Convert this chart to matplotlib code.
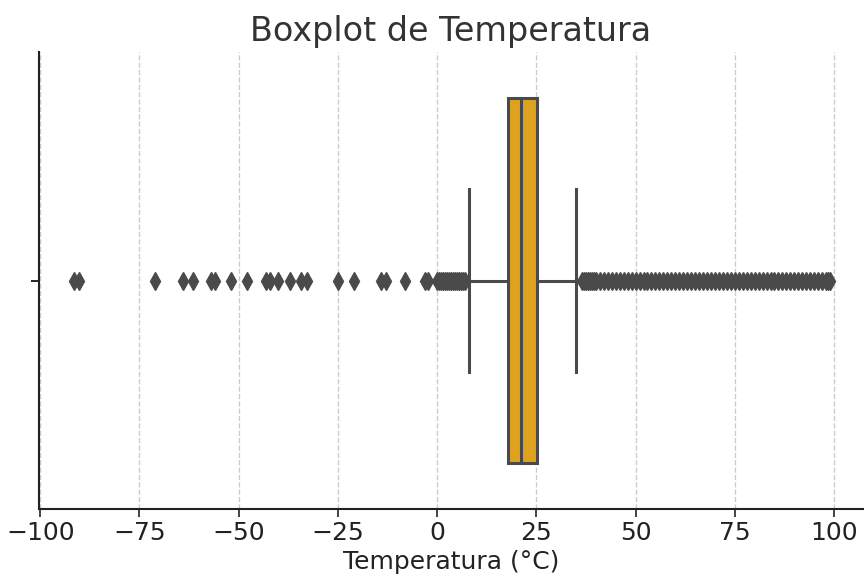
import matplotlib
matplotlib.use("Agg")
import matplotlib.pyplot as plt

# Box statistics
q1 = 17.8
median = 21.1
q3 = 25.1
whisker_low = 8.0
whisker_high = 34.9

# Outliers below the lower whisker
low_outliers = [-91.5, -90.2, -71.0, -64.0, -61.6, -57.0, -56.0, -52.0, -48.0,
                -43.2, -42.2, -40.0, -37.0, -34.2, -32.8, -25.0, -21.0,
                -14.2, -13.0, -8.0, -3.0, -2.2,
                0.0, 0.5, 1.0, 1.5, 2.0, 2.5, 3.0, 3.5, 4.0, 4.5, 5.0, 5.5, 6.0, 6.5, 7.0]

# Outliers above the upper whisker
high_outliers = [36.5, 37.0, 37.5, 38.0, 38.5, 39.0, 39.5, 40.0, 41.0, 42.0, 43.0,
                 44.0, 45.0, 46.0, 47.0, 48.0, 49.0, 50.0, 51.0, 52.0, 53.0, 54.0,
                 55.0, 56.0, 57.0, 58.0, 59.0, 60.0, 61.0, 62.0, 63.0, 64.0, 65.0,
                 66.0, 67.0, 68.0, 69.0, 70.0, 71.0, 72.0, 73.0, 74.0, 75.0, 76.0,
                 77.0, 78.0, 79.0, 80.0, 81.0, 82.0, 83.0, 84.0, 85.0, 86.0, 87.0,
                 88.0, 89.0, 90.0, 91.0, 92.0, 93.0, 94.0, 95.0, 96.0, 97.0, 98.0,
                 98.5, 99.0]

x_ticks = [-100, -75, -50, -25, 0, 25, 50, 75, 100]

title = "Boxplot de Temperatura"
xlabel = "Temperatura (°C)"

edge = "#4a4a4a"
fill = "#DEA21F"

fig = plt.figure(figsize=(8.64, 5.75), dpi=100)
ax = fig.add_axes([39 / 864, 1 - 509 / 575, (863 - 39) / 864, (509 - 52) / 575])

stats = [{
    "q1": q1, "med": median, "q3": q3,
    "whislo": whisker_low, "whishi": whisker_high,
    "fliers": low_outliers + high_outliers,
}]

ax.bxp(stats, positions=[0], widths=0.8, vert=False, patch_artist=True,
       boxprops=dict(facecolor=fill, edgecolor=edge, linewidth=2.2),
       medianprops=dict(color=edge, linewidth=2.2),
       whiskerprops=dict(color=edge, linewidth=2.2),
       capprops=dict(color=edge, linewidth=2.2),
       capwidths=0.4,
       flierprops=dict(marker="d", markerfacecolor=edge, markeredgecolor=edge,
                       markersize=9, linestyle="none"),
       zorder=3)

ax.set_ylim(0.5, -0.5)
ax.set_yticks([0])
ax.set_yticklabels([""])
ax.set_xlim(-100.3, 107.3)
ax.set_xticks(x_ticks)
ax.set_xticklabels([str(t).replace("-", "\u2212") for t in x_ticks])

ax.grid(axis="x", linestyle="--", color="#cccccc", linewidth=1)
ax.set_axisbelow(True)
for s in ["top", "right"]:
    ax.spines[s].set_visible(False)
for s in ["left", "bottom"]:
    ax.spines[s].set_linewidth(1.5)
    ax.spines[s].set_color("#222222")

ax.tick_params(axis="x", labelsize=18, length=6, width=1.2, colors="#222222", pad=3)
ax.tick_params(axis="y", length=6, width=1.2)
ax.set_xlabel(xlabel, fontsize=18, color="#222222", labelpad=3)
ax.set_title(title, fontsize=24, color="#333333", pad=8)

fig.savefig("out.png", dpi=100)
